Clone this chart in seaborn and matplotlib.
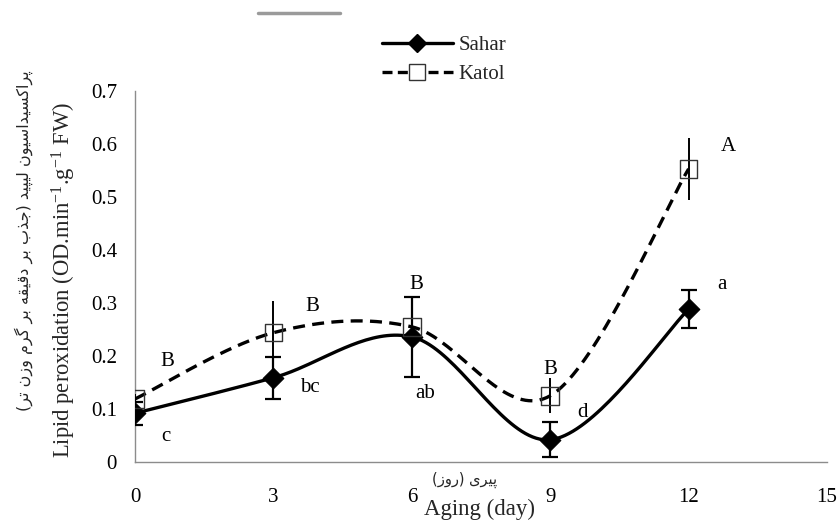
import numpy as np
import pandas as pd
import matplotlib
matplotlib.use("Agg")
import matplotlib.pyplot as plt
import seaborn as sns
from matplotlib.lines import Line2D

# ---------------- data ----------------
days = [0, 3, 6, 9, 12]
sahar = [0.092, 0.159, 0.236, 0.042, 0.288]
sahar_err = [0.022, 0.040, 0.075, 0.033, 0.036]
katol = [0.119, 0.244, 0.255, 0.125, 0.553]
katol_err = [0.010, 0.060, 0.055, 0.033, 0.058]
sahar_letters = ["c", "bc", "ab", "d", "a"]
katol_letters = ["B", "B", "B", "B", "A"]
x_ticks = [0, 3, 6, 9, 12, 15]
y_ticks = [0, 0.1, 0.2, 0.3, 0.4, 0.5, 0.6, 0.7]
y_tick_labels = ["0", "0.1", "0.2", "0.3", "0.4", "0.5", "0.6", "0.7"]
series_names = ["Sahar", "Katol"]
x_label_en = "Aging (day)"
x_label_fa = "پیری (روز)"
y_label_en = r"Lipid peroxidation (OD.min$^{\mathregular{-1}}$.g$^{\mathregular{-1}}$ FW)"
y_label_fa = "پراکسیداسیون لیپید (جذب بر دقیقه بر گرم وزن تر)"

# letter placement offsets (layout only, data units)
sahar_letter_dx = [0.67, 0.79, 0.28, 0.71, 0.72]
sahar_letter_dy = [-0.043, -0.019, -0.106, 0.052, 0.046]
katol_letter_dx = [0.70, 0.84, 0.10, 0.0, 0.86]
katol_letter_dy = [0.071, 0.049, 0.080, 0.050, 0.043]

# ------------- Persian shaping (presentation forms, visual order) -------------
AR_FORMS = {
    "\u0627": ("\uFE8D", "\uFE8E", None, None),
    "\u0628": ("\uFE8F", "\uFE90", "\uFE91", "\uFE92"),
    "\u067E": ("\uFB56", "\uFB57", "\uFB58", "\uFB59"),
    "\u062A": ("\uFE95", "\uFE96", "\uFE97", "\uFE98"),
    "\u062C": ("\uFE9D", "\uFE9E", "\uFE9F", "\uFEA0"),
    "\u062F": ("\uFEA9", "\uFEAA", None, None),
    "\u0630": ("\uFEAB", "\uFEAC", None, None),
    "\u0631": ("\uFEAD", "\uFEAE", None, None),
    "\u0632": ("\uFEAF", "\uFEB0", None, None),
    "\u0633": ("\uFEB1", "\uFEB2", "\uFEB3", "\uFEB4"),
    "\u0642": ("\uFED5", "\uFED6", "\uFED7", "\uFED8"),
    "\u0643": ("\uFED9", "\uFEDA", "\uFEDB", "\uFEDC"),
    "\u06A9": ("\uFB8E", "\uFB8F", "\uFB90", "\uFB91"),
    "\u06AF": ("\uFB92", "\uFB93", "\uFB94", "\uFB95"),
    "\u0644": ("\uFEDD", "\uFEDE", "\uFEDF", "\uFEE0"),
    "\u0645": ("\uFEE1", "\uFEE2", "\uFEE3", "\uFEE4"),
    "\u0646": ("\uFEE5", "\uFEE6", "\uFEE7", "\uFEE8"),
    "\u0647": ("\uFEE9", "\uFEEA", "\uFEEB", "\uFEEC"),
    "\u0648": ("\uFEED", "\uFEEE", None, None),
    "\u064A": ("\uFEF1", "\uFEF2", "\uFEF3", "\uFEF4"),
    "\u06CC": ("\uFBFC", "\uFBFD", "\uFBFE", "\uFBFF"),
    "\u0649": ("\uFEEF", "\uFEF0", None, None),
}


def shape_fa(text):
    out = []
    n = len(text)
    for i, ch in enumerate(text):
        f = AR_FORMS.get(ch)
        if f is None:
            out.append(ch)
            continue
        prev = text[i - 1] if i > 0 else ""
        nxt = text[i + 1] if i < n - 1 else ""
        pj = prev in AR_FORMS and AR_FORMS[prev][2] is not None
        nj = f[2] is not None and nxt in AR_FORMS
        if pj and nj:
            out.append(f[3])
        elif pj:
            out.append(f[1])
        elif nj:
            out.append(f[2])
        else:
            out.append(f[0])
    vis = "".join(reversed(out))
    return vis.translate(str.maketrans({"(": ")", ")": "("}))


def excel_smooth(xs, ys, n=40):
    pts = np.column_stack([xs, ys]).astype(float)
    m = len(pts)
    cx, cy = [], []
    for i in range(m - 1):
        p0 = pts[max(i - 1, 0)]
        p1 = pts[i]
        p2 = pts[i + 1]
        p3 = pts[min(i + 2, m - 1)]
        c1 = p1 + (p2 - p0) / 6.0
        c2 = p2 - (p3 - p1) / 6.0
        t = np.linspace(0, 1, n)[:, None]
        b = ((1 - t) ** 3) * p1 + 3 * ((1 - t) ** 2) * t * c1 + 3 * (1 - t) * t ** 2 * c2 + t ** 3 * p2
        if i > 0:
            b = b[1:]
        cx.extend(b[:, 0])
        cy.extend(b[:, 1])
    return np.array(cx), np.array(cy)


# ---------------- style ----------------
sns.set_style("white")
plt.rcParams["font.family"] = ["Liberation Serif", "DejaVu Sans"]
plt.rcParams["mathtext.fontset"] = "custom"
plt.rcParams["mathtext.rm"] = "Liberation Serif"
plt.rcParams["mathtext.it"] = "Liberation Serif:italic"

fig = plt.figure(figsize=(8.39, 5.28), dpi=100)
ax = fig.add_axes([0.161, 0.125, 0.8247, 0.7027])

sx, sy = excel_smooth(days, sahar)
kx, ky = excel_smooth(days, katol)
curves = pd.DataFrame({
    "day": np.concatenate([sx, kx]),
    "value": np.concatenate([sy, ky]),
    "series": [series_names[0]] * len(sx) + [series_names[1]] * len(kx),
})

sns.lineplot(data=curves[curves.series == "Sahar"], x="day", y="value", sort=False,
             estimator=None, color="black", lw=2.4, ax=ax, zorder=3, legend=False)
sns.lineplot(data=curves[curves.series == "Katol"], x="day", y="value", sort=False,
             estimator=None, color="black", lw=2.4, ax=ax, zorder=3, legend=False,
             linestyle=(0, (3.6, 2.2)))

ax.errorbar(days, sahar, yerr=sahar_err, fmt="none", ecolor="black",
            elinewidth=1.6, capsize=6, capthick=1.6, zorder=4)
ax.errorbar(days, katol, yerr=katol_err, fmt="none", ecolor="black",
            elinewidth=1.4, capsize=0, zorder=4)

pts = pd.DataFrame({"day": days, "sahar": sahar, "katol": katol})
sns.scatterplot(data=pts, x="day", y="sahar", marker="D", s=110, color="black",
                edgecolor="black", ax=ax, zorder=5, legend=False)
sns.scatterplot(data=pts, x="day", y="katol", marker="s", s=160, facecolor="none",
                edgecolor="#333333", linewidth=1.0, ax=ax, zorder=5, legend=False)

for i, d in enumerate(days):
    ax.text(d + sahar_letter_dx[i], sahar[i] + sahar_letter_dy[i], sahar_letters[i],
            fontsize=15, ha="center", va="center", color="black")
    ax.text(d + katol_letter_dx[i], katol[i] + katol_letter_dy[i], katol_letters[i],
            fontsize=15, ha="center", va="center", color="black")

ax.set_xlim(0, 15)
ax.set_ylim(0, 0.7)
ax.set_xticks(x_ticks)
ax.set_xticklabels([str(t) for t in x_ticks])
ax.set_yticks(y_ticks)
ax.set_yticklabels(y_tick_labels)
ax.set_xlabel("")
ax.set_ylabel("")
for s in ["top", "right"]:
    ax.spines[s].set_visible(False)
for s in ["left", "bottom"]:
    ax.spines[s].set_color("#8c8c8c")
    ax.spines[s].set_linewidth(1.0)
ax.tick_params(axis="both", direction="out", length=4, width=1, color="#8c8c8c",
               labelsize=15, labelcolor="black")
ax.tick_params(axis="x", pad=15)
ax.tick_params(axis="y", pad=9)
ax.grid(False)

fig.text(0.571, 0.036, x_label_en, fontsize=16.5, ha="center", va="center")
fig.text(0.554, 0.092, shape_fa(x_label_fa), fontsize=10.5, ha="center", va="center",
         family=["DejaVu Sans"])
fig.text(0.076, 0.470, y_label_en, fontsize=16.3, ha="center", va="center", rotation=90)
fig.text(0.028, 0.544, shape_fa(y_label_fa), fontsize=11.5, ha="center", va="center",
         rotation=90, family=["DejaVu Sans"])

handles = [
    Line2D([], [], color="black", lw=2.4, marker="D", markersize=9,
           markerfacecolor="black", markeredgecolor="black"),
    Line2D([], [], color="black", lw=2.4, linestyle=(0, (3.0, 1.6)), marker="s",
           markersize=11, markerfacecolor="white", markeredgecolor="#333333",
           markeredgewidth=1.0),
]
fig.legend(handles, series_names, loc="upper left", bbox_to_anchor=(0.455, 0.932),
           frameon=False, fontsize=15, handlelength=3.4, handletextpad=0.3,
           labelspacing=0.42, borderpad=0, borderaxespad=0)

fig.add_artist(Line2D([258 / 839, 340 / 839], [1 - 13 / 528, 1 - 13 / 528],
                      color="#9a9a9a", lw=2.5, transform=fig.transFigure))

fig.savefig("out.png", dpi=100)
